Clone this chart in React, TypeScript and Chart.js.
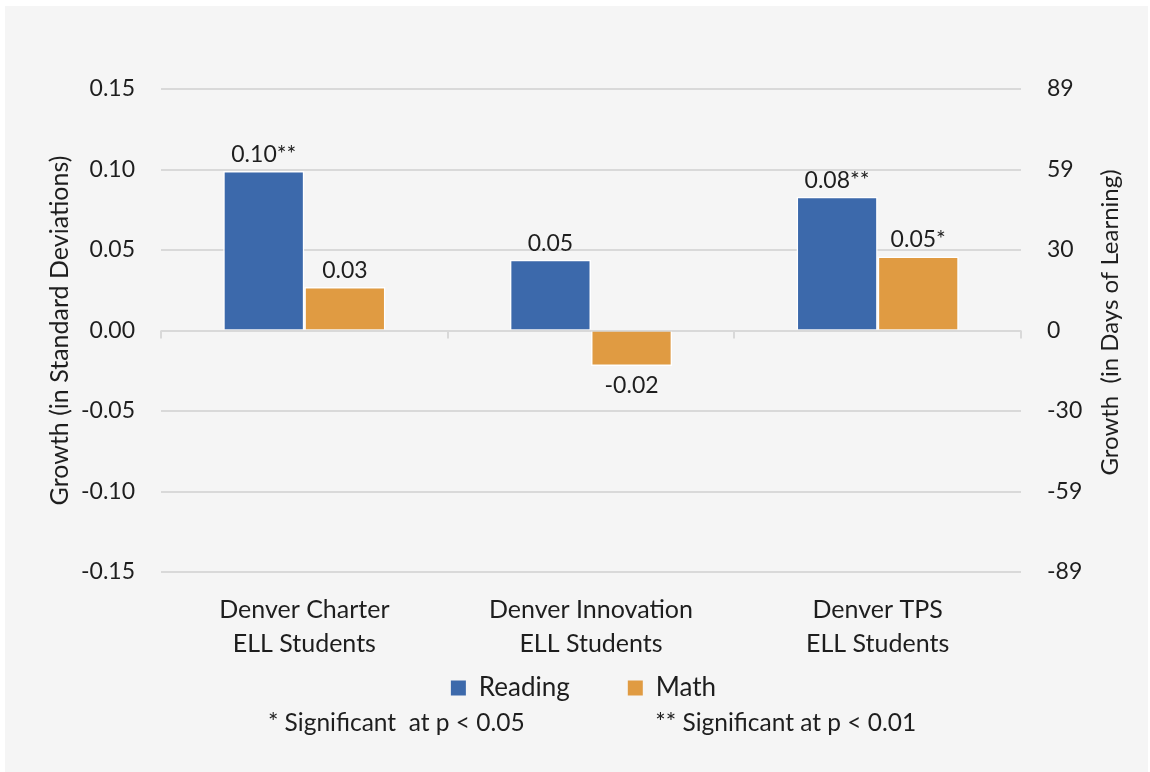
import React, { useEffect, useRef } from "react";
import { Chart, registerables } from "chart.js";

Chart.register(...registerables);

const categories: string[][] = [
  ["Denver Charter", "ELL Students"],
  ["Denver Innovation", "ELL Students"],
  ["Denver TPS", "ELL Students"],
];
const readingValues = [0.099, 0.044, 0.083];
const mathValues = [0.027, -0.022, 0.046];
const readingLabels = ["0.10**", "0.05", "0.08**"];
const mathLabels = ["0.03", "-0.02", "0.05*"];
const leftTickLabels = ["-0.15", "-0.10", "-0.05", "0.00", "0.05", "0.10", "0.15"];
const rightTickLabels = ["-89", "-59", "-30", "0", "30", "59", "89"];
const footnotes = ["* Significant  at p < 0.05", "** Significant at p < 0.01"];

const FONT = "Lato, 'Noto Sans', sans-serif";
const TEXT = "#1e1e1e";
const GRID = "#d9d9d9";

const valueLabelPlugin = {
  id: "valueLabels",
  afterDatasetsDraw(chart: any) {
    const ctx = chart.ctx;
    ctx.save();
    ctx.font = `23px ${FONT}`;
    ctx.fillStyle = TEXT;
    ctx.textAlign = "center";
    chart.data.datasets.forEach((ds: any, di: number) => {
      const meta = chart.getDatasetMeta(di);
      meta.data.forEach((bar: any, i: number) => {
        const v = ds.data[i];
        const txt = ds.valueLabels[i];
        if (v >= 0) {
          ctx.textBaseline = "bottom";
          ctx.fillText(txt, bar.x, bar.y - 5);
        } else {
          ctx.textBaseline = "top";
          ctx.fillText(txt, bar.x, bar.y + 8);
        }
      });
    });
    ctx.restore();
  },
};

const extrasPlugin = {
  id: "extras",
  afterLayout(chart: any) {
    const lg = chart.legend;
    if (lg) {
      const dy = -55;
      const dx = 7;
      lg.top += dy;
      lg.bottom += dy;
      lg.left += dx;
      lg.right += dx;
    }
  },
  beforeDatasetsDraw(chart: any) {
    const ctx = chart.ctx;
    const x = chart.scales.x;
    const y = chart.scales.y;
    const y0 = y.getPixelForValue(0);
    ctx.save();
    ctx.strokeStyle = GRID;
    ctx.lineWidth = 2;
    const n = chart.data.labels.length;
    const half = (x.getPixelForValue(1) - x.getPixelForValue(0)) / 2;
    for (let i = 0; i <= n; i++) {
      const px = Math.round(x.getPixelForValue(0) - half + i * half * 2);
      ctx.beginPath();
      ctx.moveTo(px, y0);
      ctx.lineTo(px, y0 + 8);
      ctx.stroke();
    }
    ctx.restore();
  },
  afterDraw(chart: any) {
    const ctx = chart.ctx;
    const area = chart.chartArea;
    ctx.save();
    // right axis title (reads bottom-to-top)
    ctx.font = `24px ${FONT}`;
    ctx.fillStyle = TEXT;
    ctx.textAlign = "center";
    ctx.textBaseline = "middle";
    const r = chart.scales.y1;
    ctx.translate(r.right - 38, (area.top + area.bottom) / 2 - 8);
    ctx.rotate(-Math.PI / 2);
    ctx.fillText("Growth  (in Days of Learning)", 0, 0);
    ctx.restore();
    // footnotes
    ctx.save();
    ctx.font = `24.5px ${FONT}`;
    ctx.fillStyle = TEXT;
    ctx.textAlign = "left";
    ctx.textBaseline = "middle";
    const fy = chart.legend.bottom + 12;
    ctx.fillText(footnotes[0], chart.width * 0.23, fy);
    ctx.fillText(footnotes[1], chart.width * 0.569, fy);
    ctx.restore();
  },
};

export default function App() {
  const ref = useRef<HTMLCanvasElement | null>(null);

  useEffect(() => {
    if (!ref.current) return;
    const chart = new Chart(ref.current, {
      type: "bar",
      data: {
        labels: categories,
        datasets: [
          {
            label: "Reading",
            data: readingValues,
            backgroundColor: "#3c69ab",
            borderColor: "#ffffff",
            borderWidth: 1.5,
            valueLabels: readingLabels,
          } as any,
          {
            label: "Math",
            data: mathValues,
            backgroundColor: "#e09b42",
            borderColor: "#ffffff",
            borderWidth: 1.5,
            valueLabels: mathLabels,
          } as any,
        ],
      },
      options: {
        animation: false,
        responsive: true,
        maintainAspectRatio: false,
        datasets: { bar: { categoryPercentage: 0.566, barPercentage: 1 } },
        layout: { padding: { top: 83, left: 0, right: 0, bottom: 6 } },
        plugins: {
          tooltip: { enabled: false },
          legend: {
            position: "bottom",
            labels: {
              font: { family: FONT, size: 26 },
              color: TEXT,
              boxWidth: 15,
              boxHeight: 15,
              padding: 58,
              generateLabels: (c: any) =>
                Chart.defaults.plugins.legend.labels
                  .generateLabels(c)
                  .map((l: any) => ({ ...l, lineWidth: 0, strokeStyle: "rgba(0,0,0,0)" })),
            },
          },
        },
        scales: {
          x: {
            grid: { display: false, drawTicks: false },
            border: { display: false },
            ticks: {
              font: { family: FONT, size: 25, lineHeight: 1.36 },
              color: TEXT,
              padding: 21,
              maxRotation: 0,
              autoSkip: false,
            },
            afterFit: (s: any) => {
              s.height = 100;
            },
          },
          y: {
            position: "left",
            min: -0.15,
            max: 0.15,
            grid: { color: GRID, lineWidth: 2, drawTicks: false },
            border: { display: false },
            ticks: {
              stepSize: 0.05,
              font: { family: FONT, size: 23 },
              color: TEXT,
              padding: 26,
              callback: (_v: any, i: number) => leftTickLabels[i],
            },
            title: {
              display: true,
              text: "Growth (in Standard Deviations)",
              font: { family: FONT, size: 25 },
              color: TEXT,
              padding: { top: 40, bottom: 0 },
            },
            afterFit: (s: any) => {
              s.width = 156;
            },
          },
          y1: {
            position: "right",
            min: -0.15,
            max: 0.15,
            grid: { display: false, drawTicks: false },
            border: { display: false },
            ticks: {
              stepSize: 0.05,
              font: { family: FONT, size: 23 },
              color: TEXT,
              padding: 26,
              callback: (_v: any, i: number) => rightTickLabels[i],
            },
            afterFit: (s: any) => {
              s.width = 127;
            },
          },
        },
      } as any,
      plugins: [valueLabelPlugin, extrasPlugin],
    });
    return () => chart.destroy();
  }, []);

  return (
    <div
      style={{
        position: "absolute",
        left: 5,
        top: 6,
        width: 1143,
        height: 766,
        background: "#f5f5f5",
      }}
    >
      <canvas ref={ref} />
    </div>
  );
}
